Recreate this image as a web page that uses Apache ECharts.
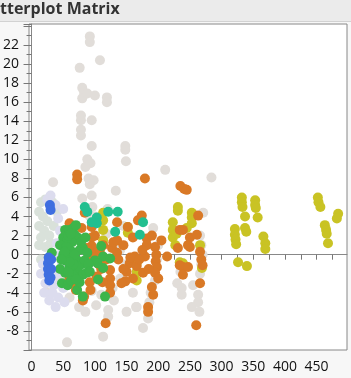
<!DOCTYPE html>
<html>
<head>
<meta charset="utf-8">
<script src="https://cdn.jsdelivr.net/npm/echarts/dist/echarts.min.js"></script>
<style>
  body { margin: 0; background: #f7f7f7; }
  #chart { width: 351px; height: 378px; }
</style>
</head>
<body>
<div id="chart"></div>
<script>
// axis ticks / labels
var xTickValues = [0, 25, 50, 75, 100, 125, 150, 175, 200, 225, 250, 275, 300, 325, 350, 375, 400, 425, 450, 475];
var xLabelValues = [0, 50, 100, 150, 200, 250, 300, 350, 400, 450];

// groups, each point is [x, y]
var grayPts = [
  [92, 22.9], [92, 22.3], [108, 20.4], [76, 19.6], [80, 17.5], [83, 17.0], [80, 16.4], [88, 16.9],
  [100, 16.7], [119, 16.5], [119, 16.0], [78, 14.6], [78, 14.1], [95, 14.1], [78, 13.1], [78, 12.5],
  [95, 11.4], [148, 11.4], [148, 11.0], [88, 10.0], [93, 9.6], [85, 9.2], [149, 9.8], [34, 7.6],
  [90, 8.0], [98, 7.8], [92, 7.4], [133, 6.7], [211, 8.9], [284, 8.1], [95, 6.2], [80, 5.9],
  [271, 4.4], [192, 2.8], [100, 4.0], [120, 4.8], [118, 2.2], [140, 0.5], [150, -1.0], [105, -2.5],
  [128, -3.5], [266, 2.0], [268, 1.0], [270, 0.0], [268, -1.0], [266, -2.0], [263, -4.2], [263, -5.0],
  [265, -6.0], [253, -5.5], [237, -3.5], [237, -4.2], [195, -2.7], [188, -4.0], [186, -5.0], [184, -6.7],
  [166, -5.5], [176, -7.7], [200, 1.0], [198, -0.5], [235, -1.8], [230, -3.0], [255, -3.2], [23, -3.9],
  [56, -9.2], [113, -8.6], [121, -5.8], [121, -6.5], [165, -5.5], [102, -5.3], [130, -4.8], [95, -3.8],
  [140, -2.5], [60, -4.5], [75, -5.5], [45, -2.5], [96, 5.0], [92, 4.0], [130, 1.0], [145, 3.0],
  [160, -4.0], [110, -4.2], [150, -6.0], [85, -6.0]
];
var paleGreenPts = [
  [15, 5.5], [22, 5.8], [12, 4.5], [18, 4.0], [25, 3.5], [12, 3.0], [20, 2.5], [15, 1.8],
  [28, 2.0], [12, 1.0], [22, 0.8], [35, 3.0], [40, 4.5], [33, 5.5], [15, -0.5], [30, 1.2]
];
var lavenderPts = [
  [25, 5.8], [38, 5.2], [42, 3.8], [45, 2.5], [40, 1.2], [45, 0.0], [18, -1.0], [15, -2.0],
  [22, -3.0], [35, -3.2], [40, -2.0], [48, -1.0], [50, -3.5], [42, -4.5], [33, -4.0], [38, -5.5],
  [52, -5.0], [28, -4.8], [20, -4.0], [50, 4.8], [30, 6.2]
];
var yellowPts = [
  [113, 4.4], [113, 3.6], [113, 2.6], [113, 1.5], [152, 2.9], [152, 2.3], [166, -0.9], [166, -1.8],
  [166, -2.7], [231, 5.0], [231, 4.6], [253, 4.4], [253, 3.9], [253, 3.3], [223, 3.4], [223, 2.6],
  [223, 1.8], [227, 1.0], [266, 1.0], [239, -0.9], [269, -1.4], [234, -0.8], [245, 2.8], [229, 2.2],
  [332, 6.0], [332, 5.5], [333, 5.0], [353, 5.7], [353, 5.2], [354, 4.9], [337, 4.0], [357, 3.9],
  [321, 2.7], [321, 2.1], [322, 1.6], [323, 1.1], [337, 2.8], [339, 2.4], [366, 1.9], [369, 1.2],
  [369, 0.6], [326, -0.8], [340, -1.2],
  [452, 6.0], [453, 5.5], [456, 5.0], [484, 4.3], [482, 3.8], [463, 3.1], [465, 2.6], [466, 2.2],
  [468, 1.2]
];
var orangePts = [
  [72, 8.4], [72, 7.9], [179, 8.0], [235, 7.2], [241, 6.9], [245, 6.8],
  [60, 3.3], [79, 2.8], [84, 4.4], [95, 2.9], [95, 1.8], [95, 0.9], [95, 0.0], [95, -0.6],
  [87, 0.7], [103, 0.2], [103, -2.3], [92, -2.9], [81, -4.8], [83, -4.4], [64, -3.0], [60, -2.5],
  [113, 1.0], [127, 0.7], [129, 1.3], [135, 1.5], [124, -1.6], [124, -2.5], [124, -3.2], [124, -4.0],
  [135, 0.2], [137, -0.5], [135, 3.4], [152, 2.9], [150, -1.8], [155, -0.9], [163, -0.2], [160, -2.5],
  [166, -1.2], [168, 3.6], [174, 4.1], [182, 1.7], [182, 1.0], [190, -3.4], [192, -4.2], [184, -5.5],
  [184, -6.0], [179, -0.2], [176, -1.9], [195, 0.8], [197, 0.0], [196, -0.7], [198, -1.3], [195, -1.9],
  [214, -0.2], [234, 2.6], [239, 2.6], [250, 1.8], [250, 0.8], [247, 1.0], [261, 2.1], [263, 4.1],
  [239, -1.3], [234, -1.1], [247, -1.3], [239, -2.1], [231, 0.7], [266, 0.3], [268, -0.5], [270, -1.1],
  [266, -3.0], [260, -7.4], [117, -7.2], [112, -2.9], [93, -3.7], [70, -3.7], [100, 2.0], [106, -1.0],
  [110, -1.5], [148, -2.8], [156, -0.3], [190, 2.0], [142, -3.0], [145, 1.0], [160, 1.8], [170, -0.5],
  [185, -1.5], [200, -2.5], [175, 0.5], [205, 1.5], [145, -1.5], [118, -0.5], [108, 0.5]
];
var tealPts = [
  [84, 5.0], [88, 4.5], [103, 3.9], [103, 3.3], [121, 4.5], [136, 4.5], [132, 2.4], [171, 2.1],
  [176, 3.4], [95, 3.4]
];
var greenPts = [
  [53, 2.6], [60, 2.6], [50, 1.8], [50, 1.0], [50, 0.0], [57, 1.6], [68, 2.1], [73, 1.8],
  [81, 0.7], [53, -0.6], [53, -1.9], [60, -1.3], [72, -1.6], [81, -2.1], [87, -1.9], [100, -0.6],
  [113, -0.2], [113, -1.4], [124, -0.4], [48, -3.0], [57, -3.2], [72, -3.7], [81, -4.4],
  [116, -4.4], [32, 0.2], [29, -0.2], [45, 1.0], [64, 1.3], [56, 0.5], [64, 0.3], [76, 0.5],
  [72, -0.6], [61, -0.4], [79, -1.0], [66, -2.2], [45, -1.5], [88, 0.2], [58, 2.0], [66, 2.8],
  [62, -2.7], [76, -2.9], [104, -0.9], [70, 3.1], [110, 0.9], [55, 0.8], [62, 2.2], [68, 0.0],
  [75, -1.2], [58, -1.8], [66, -1.0], [84, -0.6], [90, -1.0], [70, -2.6], [52, 0.3], [78, 1.3],
  [85, 1.8], [60, -0.8], [92, -1.8], [47, -0.5], [105, -2.6]
];
var bluePts = [
  [29, 5.2], [30, 4.7], [27, -0.3], [26, -0.9], [26, -1.5], [27, -2.1], [28, -2.7], [31, -0.5],
  [31, -1.5], [30, -2.4]
];

var groups = [
  { name: 'gray', data: grayPts, color: '#e1ddd9' },
  { name: 'palegreen', data: paleGreenPts, color: '#d9e1da' },
  { name: 'lavender', data: lavenderPts, color: '#dcdcee' },
  { name: 'yellow', data: yellowPts, color: '#c9c324' },
  { name: 'orange', data: orangePts, color: '#d97926' },
  { name: 'teal', data: tealPts, color: '#22bf8f' },
  { name: 'green', data: greenPts, color: '#3db54a' },
  { name: 'blue', data: bluePts, color: '#3f6ee0' }
];

var chart = echarts.init(document.getElementById('chart'));
var font = '"Open Sans", sans-serif';

var option = {
  backgroundColor: '#f7f7f7',
  animation: false,
  graphic: [
    { type: 'rect', shape: { x: 0, y: 0, width: 351, height: 21 }, style: { fill: '#ebebeb' }, z: -1 },
    { type: 'rect', shape: { x: 0, y: 21, width: 351, height: 1 }, style: { fill: '#d2d2d2' }, z: -1 },
    { type: 'text', x: 0, y: 1, style: { text: 'tterplot Matrix', font: 'bold 16px ' + font, fill: '#333' } }
  ],
  grid: {
    left: 29, right: 4, top: 24, bottom: 28,
    show: true,
    backgroundColor: '#fff',
    borderColor: '#888',
    borderWidth: 1
  },
  xAxis: {
    type: 'value',
    min: -4,
    max: 498,
    offset: 2,
    splitLine: { show: false },
    axisLine: { lineStyle: { color: '#888' } },
    axisTick: { customValues: xTickValues, length: 5, lineStyle: { color: '#777' } },
    axisLabel: { customValues: xLabelValues, margin: 8, fontSize: 14, fontFamily: font, color: '#111' }
  },
  yAxis: {
    type: 'value',
    min: -10,
    max: 24.2,
    interval: 2,
    splitLine: { show: false },
    axisLine: { lineStyle: { color: '#888' } },
    axisTick: { length: 8, lineStyle: { color: '#777' } },
    minorTick: { show: true, splitNumber: 2, length: 5, lineStyle: { color: '#777' } },
    minorSplitLine: { show: false },
    axisLabel: {
      margin: 10, fontSize: 14, fontFamily: font, color: '#111',
      formatter: function (v) { return (v < -9 || v > 23) ? '' : String(v); }
    }
  },
  series: groups.map(function (g) {
    return {
      name: g.name,
      type: 'scatter',
      data: g.data,
      symbolSize: 10,
      itemStyle: { color: g.color, opacity: 1 },
      emphasis: { disabled: true }
    };
  })
};
chart.setOption(option);
</script>
</body>
</html>
